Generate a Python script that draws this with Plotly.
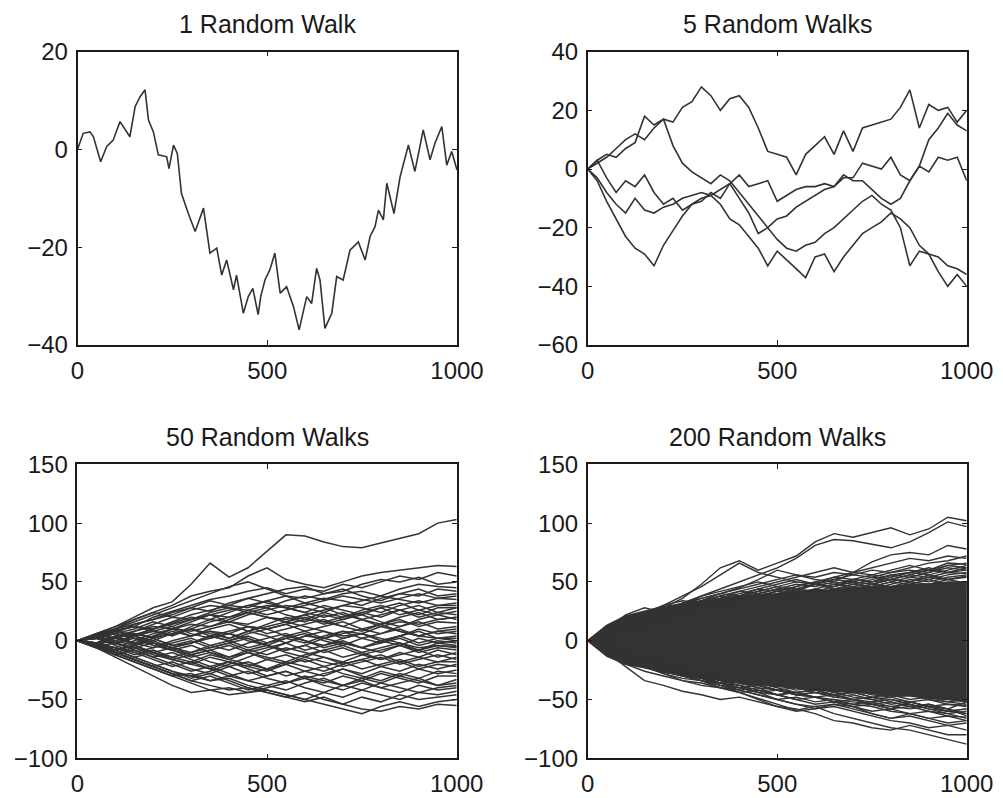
import plotly.graph_objects as go

# ---------------------------------------------------------------------------
# Data
# ---------------------------------------------------------------------------
TITLES = ["1 Random Walk", "5 Random Walks", "50 Random Walks", "200 Random Walks"]

X_TICKS = [0, 500, 1000]
Y_TICKS_1 = [-40, -20, 0, 20]
Y_TICKS_2 = [-60, -40, -20, 0, 20, 40]
Y_TICKS_34 = [-100, -50, 0, 50, 100, 150]

# single walk: step index and position
WALK1_STEPS = [0, 15, 33, 42, 61, 77, 94, 112, 138, 152, 165, 178, 187, 200, 213,
               235, 241, 253, 263, 274, 292, 310, 332, 349, 367, 380, 393, 411,
               419, 437, 450, 462, 476, 483, 494, 507, 520, 534, 551, 569, 584,
               604, 617, 630, 639, 652, 670, 683, 700, 718, 740, 758, 771, 784,
               793, 806, 815, 834, 850, 872, 889, 911, 929, 942, 960, 973, 986,
               1000]
WALK1_VALUES = [0, 3.3, 3.6, 2.6, -2.5, 0.6, 1.9, 5.7, 2.6, 8.8, 10.8, 12.2, 6.0,
                3.6, -1.1, -1.5, -3.9, 0.9, -0.8, -9.0, -13.1, -16.8, -12.0,
                -21.2, -20.2, -25.7, -22.6, -28.7, -25.7, -33.5, -30.1, -28.4,
                -33.8, -30.0, -26.7, -24.6, -21.2, -29.4, -28.1, -32.1, -36.9,
                -30.1, -31.5, -24.3, -26.7, -36.6, -33.5, -26.0, -26.7, -20.6,
                -18.9, -22.6, -17.8, -15.8, -12.4, -14.4, -6.9, -13.1, -5.6, 0.9,
                -4.5, 4.0, -2.1, 1.3, 4.7, -3.2, -0.4, -4.2]

# five walks sampled every 25 steps
STEPS_25 = list(range(0, 1001, 25))
WALKS5 = [
    [0, 3, 5, 4, 7, 9, 18, 15, 17, 16, 21, 23, 28, 25, 20, 24, 25, 21, 14, 6,
     5, 4, -2, 5, 8, 11, 5, 13, 6, 14, 15, 16, 17, 21, 27, 14, 22, 20, 21, 16, 20],
    [0, 2, 4, 7, 10, 12, 10, 14, 17, 8, 2, -1, -3, -5, -2, -4, -8, -12, -16, -20,
     -17, -16, -13, -11, -9, -7, -6, -2, -4, -4, -7, -10, -12, -10, -4, 1, 10, 14, 19, 15, 13],
    [0, 3, -3, -8, -4, -6, -2, -8, -12, -10, -14, -12, -11, -8, -10, -5, -2, -6, -5, -4,
     -11, -9, -7, -6, -6, -5, -6, -3, -3, 2, 1, 0, 4, -2, -4, 1, -1, 4, 3, 4, -4],
    [0, -3, -8, -12, -15, -10, -14, -15, -13, -12, -10, -9, -8, -9, -12, -17, -19, -23, -27, -33,
     -28, -31, -34, -37, -30, -29, -35, -30, -26, -22, -20, -18, -15, -17, -20, -26, -29, -35, -40, -36, -40],
    [0, -4, -11, -17, -23, -27, -29, -33, -26, -21, -16, -12, -10, -9, -7, -5, -10, -15, -22, -20,
     -24, -27, -28, -26, -25, -22, -20, -17, -14, -11, -9, -12, -14, -20, -33, -28, -29, -30, -33, -34, -36],
]

# fifty walks sampled every 50 steps
STEPS_50 = list(range(0, 1001, 50))
WALKS50 = [
    [0, 6, 12, 20, 28, 33, 48, 66, 54, 62, 76, 90, 89, 84, 80, 79, 83, 87, 91, 100, 103],
    [0, 5, 10, 18, 24, 30, 38, 42, 45, 55, 62, 52, 48, 45, 50, 55, 58, 60, 62, 64, 63],
    [0, 4, 9, 12, 20, 25, 30, 35, 38, 42, 45, 40, 44, 42, 48, 45, 50, 55, 52, 58, 55],
    [0, 2, 6, 14, 18, 22, 28, 25, 32, 36, 40, 44, 46, 40, 42, 48, 52, 50, 54, 48, 50],
    [0, 3, 8, 5, 10, 15, 20, 18, 24, 30, 28, 34, 38, 35, 40, 42, 38, 44, 48, 46, 45],
    [0, -2, 4, 8, 12, 10, 16, 22, 20, 26, 30, 28, 32, 36, 34, 30, 36, 40, 38, 44, 42],
    [0, 5, 2, 8, 14, 20, 18, 24, 28, 26, 22, 26, 30, 34, 38, 35, 32, 36, 40, 36, 38],
    [0, 2, -3, 4, 8, 5, 12, 18, 16, 22, 26, 30, 28, 24, 30, 34, 38, 35, 32, 36, 35],
    [0, -4, 2, 6, 3, 10, 14, 12, 18, 24, 20, 16, 22, 26, 30, 28, 24, 30, 34, 30, 32],
    [0, 6, 10, 14, 18, 24, 28, 34, 30, 36, 32, 28, 24, 30, 26, 22, 28, 32, 26, 30, 30],
    [0, 3, 8, 12, 8, 4, 10, 16, 20, 24, 28, 22, 18, 24, 20, 26, 30, 26, 22, 28, 28],
    [0, -3, -6, 0, 6, 10, 8, 12, 16, 14, 20, 18, 22, 16, 20, 24, 28, 22, 26, 22, 25],
    [0, 4, 8, 4, 10, 14, 18, 22, 26, 30, 34, 28, 24, 20, 24, 18, 22, 26, 20, 24, 22],
    [0, -2, 3, -2, -6, 0, 4, 8, 6, 12, 10, 14, 18, 16, 12, 18, 14, 20, 24, 18, 20],
    [0, 5, 2, -3, 2, 6, 10, 6, 2, 8, 12, 16, 20, 14, 18, 22, 16, 12, 18, 22, 18],
    [0, -4, -8, -4, 0, -6, -2, 4, 8, 12, 6, 10, 14, 18, 12, 8, 14, 18, 12, 16, 15],
    [0, 3, 6, 10, 16, 12, 18, 22, 16, 12, 10, 14, 8, 12, 16, 10, 6, 12, 16, 10, 12],
    [0, -3, 2, 6, 2, -4, -2, 4, 0, 6, 10, 4, 8, 2, 6, 10, 14, 8, 4, 8, 10],
    [0, 4, 0, -4, 2, 8, 4, 10, 14, 8, 4, -2, 4, 8, 2, 6, 0, 4, 10, 6, 8],
    [0, -5, -2, 4, 8, 12, 6, 2, 6, 0, -4, 2, -2, 4, 8, 2, 6, 10, 4, 8, 6],
    [0, 2, 6, 2, -2, -6, -10, -4, 0, 4, -2, 2, 6, 0, -4, 2, -2, 4, 8, 2, 4],
    [0, -2, -6, -10, -6, -2, 2, -4, -8, -2, 2, 6, 0, -6, -2, -6, 0, 4, -2, 2, 2],
    [0, 4, 8, 4, 0, 6, 10, 4, 0, -6, -2, 4, 0, -4, 2, 6, 0, -4, 2, -2, 0],
    [0, -3, 0, 4, -2, -6, -2, 2, 6, 2, -4, -8, -4, 2, -2, -6, -2, 2, -4, 0, -2],
    [0, 2, -2, -6, -10, -6, -12, -8, -4, -10, -6, -2, -8, -4, 0, -6, -10, -4, -8, -2, -4],
    [0, -4, -8, -4, -10, -14, -10, -6, -2, -8, -4, -10, -14, -8, -4, -10, -6, -2, -8, -4, -6],
    [0, 5, 2, 6, 2, -4, 0, -6, -2, 2, -4, -8, -4, -10, -6, -12, -8, -4, -10, -6, -8],
    [0, -2, -6, -12, -8, -14, -18, -12, -16, -10, -14, -18, -12, -8, -14, -10, -16, -12, -8, -14, -10],
    [0, 3, -2, 2, -4, -8, -4, -10, -14, -8, -12, -6, -10, -14, -18, -12, -16, -10, -14, -8, -12],
    [0, -5, -10, -6, -12, -16, -20, -14, -18, -22, -16, -12, -18, -14, -20, -16, -12, -18, -14, -18, -14],
    [0, 2, 6, 2, -4, -8, -12, -8, -14, -10, -16, -20, -14, -18, -22, -18, -14, -20, -16, -12, -16],
    [0, -3, -8, -14, -10, -16, -20, -24, -18, -22, -26, -20, -16, -22, -18, -24, -20, -16, -22, -18, -18],
    [0, 4, -2, -6, -2, -8, -14, -10, -16, -20, -24, -18, -22, -26, -20, -16, -22, -26, -20, -24, -20],
    [0, -4, -10, -16, -22, -18, -24, -28, -22, -18, -24, -20, -26, -30, -24, -28, -22, -18, -24, -20, -22],
    [0, -2, -8, -4, -10, -16, -12, -18, -22, -28, -24, -30, -26, -22, -28, -32, -26, -30, -24, -28, -25],
    [0, 3, -2, -8, -14, -10, -16, -22, -18, -24, -30, -26, -32, -28, -24, -30, -34, -28, -32, -26, -28],
    [0, -6, -12, -8, -14, -20, -26, -22, -28, -34, -30, -26, -32, -36, -30, -34, -28, -32, -36, -30, -30],
    [0, -3, -8, -14, -20, -26, -30, -34, -30, -26, -32, -36, -30, -34, -38, -32, -36, -30, -34, -38, -33],
    [0, 2, -4, -10, -16, -22, -18, -24, -30, -34, -38, -42, -36, -32, -38, -34, -40, -36, -32, -38, -36],
    [0, -5, -10, -16, -22, -28, -34, -30, -36, -42, -38, -34, -40, -44, -38, -42, -36, -40, -44, -40, -38],
    [0, -4, -12, -18, -24, -30, -36, -42, -46, -44, -40, -36, -32, -38, -42, -36, -40, -44, -38, -42, -40],
    [0, -6, -14, -22, -30, -38, -44, -42, -40, -44, -42, -46, -50, -44, -48, -42, -46, -50, -44, -46, -43],
    [0, -2, -8, -14, -20, -26, -32, -28, -34, -40, -44, -48, -44, -50, -54, -48, -52, -46, -50, -48, -46],
    [0, -6, -12, -18, -24, -30, -28, -34, -32, -38, -42, -46, -50, -54, -58, -62, -56, -52, -56, -52, -50],
    [0, -4, -10, -16, -22, -28, -34, -38, -42, -40, -44, -48, -52, -48, -54, -58, -60, -56, -58, -54, -55],
    [0, 2, 8, 12, 10, 16, 22, 26, 30, 28, 34, 38, 36, 40, 44, 38, 34, 40, 44, 38, 40],
    [0, 4, 10, 16, 22, 28, 34, 40, 46, 50, 44, 38, 32, 28, 22, 18, 12, 8, 4, 2, 0],
    [0, -4, -10, -16, -22, -28, -30, -26, -20, -14, -8, -2, 4, 2, 8, 6, 12, 16, 14, 18, 20],
    [0, 6, 12, 18, 24, 20, 26, 30, 28, 24, 20, 16, 12, 8, 4, 6, 2, -2, -6, -4, -5],
    [0, -2, 4, -2, 4, 10, 4, 8, 2, 8, 14, 20, 16, 22, 18, 24, 20, 26, 30, 24, 28],
]

# 200 walks: the tightly packed core (upper / lower edge every 50 steps)
CORE_UPPER = [0, 13, 21, 25, 29, 31, 34, 35, 38, 39, 40, 42, 43, 43, 45, 46, 46, 48, 48, 50, 50]
CORE_LOWER = [0, -13, -20, -23, -27, -29, -32, -33, -36, -37, -39, -40, -42, -43, -44, -45, -47, -47, -49, -50, -52]

# 200 walks: the walks that stray outside the core or run along its edge
WALKS200_OUTER = [
    [0, 6, 12, 20, 28, 36, 48, 62, 68, 60, 66, 72, 84, 91, 88, 92, 96, 90, 95, 105, 102],
    [0, 4, 10, 16, 24, 30, 38, 44, 50, 56, 62, 70, 81, 86, 85, 82, 79, 84, 92, 101, 97],
    [0, 10, 22, 28, 24, 28, 34, 40, 45, 52, 60, 56, 52, 50, 58, 67, 73, 75, 73, 81, 78],
    [0, 3, 8, 14, 20, 26, 30, 36, 42, 46, 50, 54, 58, 62, 58, 62, 66, 70, 68, 72, 70],
    [0, -2, 6, 12, 18, 22, 28, 34, 38, 44, 48, 52, 48, 54, 58, 56, 60, 64, 60, 66, 65],
    [0, 4, 10, 16, 14, 20, 26, 32, 36, 34, 40, 44, 48, 46, 52, 50, 56, 58, 62, 58, 60],
    [0, 2, 8, 14, 20, 24, 30, 28, 34, 38, 42, 40, 44, 48, 46, 50, 52, 56, 54, 58, 57],
    [0, 6, 14, 20, 26, 32, 38, 42, 46, 50, 46, 42, 40, 44, 48, 46, 50, 54, 52, 48, 50],
    [0, 4, 12, 18, 24, 28, 34, 30, 36, 42, 38, 44, 42, 46, 50, 48, 52, 50, 56, 52, 54],
    [0, 8, 14, 22, 30, 38, 46, 56, 66, 58, 54, 50, 48, 44, 46, 42, 40, 44, 48, 46, 45],
    [0, 5, 10, 16, 22, 26, 32, 38, 36, 40, 44, 42, 48, 52, 56, 54, 58, 60, 58, 64, 62],
    [0, 6, 12, 18, 24, 28, 32, 30, 34, 38, 36, 40, 44, 42, 46, 44, 48, 52, 50, 54, 56],
    [0, 4, 10, 16, 22, 26, 30, 34, 32, 36, 40, 38, 42, 40, 44, 48, 46, 50, 48, 52, 49],
    [0, 8, 14, 20, 24, 26, 32, 36, 38, 34, 38, 42, 40, 44, 42, 46, 50, 48, 52, 56, 58],
    [0, 2, 8, 12, 18, 22, 26, 24, 28, 32, 36, 34, 38, 42, 40, 44, 42, 46, 44, 48, 46],
    [0, 8, 16, 22, 28, 32, 36, 40, 38, 42, 46, 44, 48, 52, 50, 54, 52, 56, 60, 58, 62],
    [0, 6, 14, 20, 26, 30, 34, 38, 42, 40, 44, 48, 46, 50, 48, 52, 56, 54, 58, 62, 60],
    [0, 10, 18, 24, 30, 34, 32, 36, 40, 44, 42, 46, 50, 54, 52, 56, 54, 58, 56, 60, 64],
    [0, 4, 12, 18, 22, 26, 30, 34, 38, 42, 46, 50, 48, 46, 50, 48, 52, 50, 54, 52, 55],
    [0, 8, 16, 20, 24, 30, 36, 40, 44, 48, 52, 56, 54, 58, 56, 60, 58, 62, 66, 68, 72],
    [0, 6, 12, 16, 22, 28, 34, 36, 34, 38, 42, 46, 50, 48, 52, 50, 54, 58, 60, 64, 66],
    [0, -4, -10, -14, -22, -26, -30, -36, -38, -44, -50, -54, -56, -62, -66, -70, -74, -76, -80, -84, -88],
    [0, -6, -12, -18, -24, -28, -34, -40, -44, -50, -56, -58, -62, -68, -70, -74, -76, -72, -76, -80, -80],
    [0, -10, -22, -34, -38, -43, -46, -50, -48, -52, -56, -60, -58, -54, -56, -62, -66, -62, -66, -70, -68],
    [0, -4, -10, -14, -20, -26, -32, -38, -44, -49, -54, -59, -56, -54, -58, -62, -66, -64, -68, -72, -70],
    [0, -6, -12, -16, -22, -28, -30, -36, -42, -40, -46, -50, -54, -52, -56, -60, -58, -62, -66, -64, -65],
    [0, -2, -8, -14, -20, -24, -30, -34, -38, -42, -46, -44, -48, -52, -50, -54, -58, -56, -60, -62, -60],
    [0, -4, -10, -16, -22, -26, -30, -34, -36, -40, -42, -46, -48, -50, -52, -54, -56, -58, -56, -60, -58],
    [0, -6, -12, -18, -24, -28, -32, -36, -40, -44, -46, -50, -48, -52, -56, -54, -58, -52, -56, -54, -55],
    [0, -4, -10, -16, -22, -26, -30, -32, -36, -38, -42, -40, -44, -46, -44, -48, -50, -52, -50, -54, -56],
    [0, -2, -8, -14, -18, -22, -26, -30, -34, -36, -38, -42, -40, -44, -42, -46, -48, -46, -50, -52, -50],
    [0, -6, -14, -20, -26, -30, -34, -38, -40, -38, -42, -46, -44, -48, -46, -50, -54, -52, -56, -60, -62],
    [0, -4, -10, -14, -20, -24, -28, -26, -30, -34, -38, -36, -40, -44, -48, -50, -48, -52, -56, -58, -64],
    [0, -8, -16, -22, -28, -32, -34, -38, -42, -46, -50, -54, -58, -56, -60, -64, -68, -70, -74, -72, -76],
    [0, -8, -14, -20, -26, -30, -34, -36, -40, -38, -42, -46, -44, -48, -50, -48, -52, -56, -54, -58, -62],
    [0, -10, -16, -22, -26, -30, -32, -36, -34, -38, -42, -44, -42, -46, -50, -52, -50, -54, -58, -60, -58],
    [0, -6, -14, -20, -24, -28, -32, -36, -40, -44, -42, -46, -48, -46, -50, -54, -52, -56, -54, -58, -52],
    [0, -8, -16, -22, -28, -34, -38, -40, -44, -42, -46, -44, -48, -52, -54, -52, -56, -54, -58, -62, -66],
    [0, -12, -20, -26, -30, -34, -36, -40, -42, -46, -50, -48, -52, -50, -54, -56, -60, -62, -60, -64, -68],
    [0, -6, -12, -18, -22, -26, -30, -34, -38, -36, -40, -44, -42, -46, -44, -48, -46, -50, -48, -52, -54],
]

for w in WALKS5:
    assert len(w) == len(STEPS_25)
for w in WALKS50 + WALKS200_OUTER + [CORE_UPPER, CORE_LOWER]:
    assert len(w) == len(STEPS_50)

# ---------------------------------------------------------------------------
# Figure
# ---------------------------------------------------------------------------
W, H = 1003, 798
LINE = "#333333"
AXIS = "#1a1a1a"
FONT = "Liberation Sans, Arial, Helvetica, sans-serif"

fig = go.Figure()

# panel boxes in pixels: (left, right, top, bottom)
boxes = [
    (77.5, 457.0, 51.7, 345.0),
    (587.7, 966.7, 51.7, 345.0),
    (77.3, 456.7, 464.3, 758.3),
    (587.7, 966.7, 464.3, 758.3),
]
y_ranges = [[-40, 20], [-60, 40], [-100, 150], [-100, 150]]
y_ticks = [Y_TICKS_1, Y_TICKS_2, Y_TICKS_34, Y_TICKS_34]


def line(x, y, i, width):
    sfx = "" if i == 0 else str(i + 1)
    return go.Scatter(x=x, y=y, mode="lines", xaxis="x" + sfx, yaxis="y" + sfx,
                      line=dict(color=LINE, width=width), hoverinfo="skip",
                      showlegend=False)


fig.add_trace(line(WALK1_STEPS, WALK1_VALUES, 0, 1.6))
for w in WALKS5:
    fig.add_trace(line(STEPS_25, w, 1, 1.6))
for w in WALKS50:
    fig.add_trace(line(STEPS_50, w, 2, 1.5))

# core band of the 200 walks
fig.add_trace(go.Scatter(
    x=STEPS_50 + STEPS_50[::-1], y=CORE_UPPER + CORE_LOWER[::-1],
    mode="lines", fill="toself", fillcolor=LINE, xaxis="x4", yaxis="y4",
    line=dict(color=LINE, width=1.5), hoverinfo="skip", showlegend=False))
for w in WALKS200_OUTER:
    fig.add_trace(line(STEPS_50, w, 3, 1.4))

layout = dict(
    template="none",
    width=W, height=H, autosize=False,
    margin=dict(l=0, r=0, t=0, b=0, pad=0, autoexpand=False),
    paper_bgcolor="white", plot_bgcolor="white",
    font=dict(family=FONT, size=24, color="#1a1a1a"),
    showlegend=False,
)

annotations = []
for i, (l, r, t, b) in enumerate(boxes):
    sfx = "" if i == 0 else str(i + 1)
    common = dict(showline=True, linecolor=AXIS, linewidth=1.5, mirror="ticks",
                  ticks="inside", ticklen=5, tickwidth=1, tickcolor=AXIS,
                  showgrid=False, zeroline=False, automargin=False,
                  tickfont=dict(family=FONT, size=24, color="#1a1a1a"))
    layout["xaxis" + sfx] = dict(
        domain=[l / W, r / W], range=[0, 1000], anchor="y" + sfx,
        tickmode="array", tickvals=X_TICKS, ticklabelstandoff=3, **common)
    layout["yaxis" + sfx] = dict(
        domain=[1 - b / H, 1 - t / H], range=y_ranges[i], anchor="x" + sfx,
        tickmode="array", tickvals=y_ticks[i], ticklabelstandoff=3, **common)
    annotations.append(dict(
        text=TITLES[i], xref="paper", yref="paper",
        x=(l + r) / 2 / W, y=1 - (t - 27.5) / H,
        xanchor="center", yanchor="middle", showarrow=False,
        font=dict(family=FONT, size=25, color="#1a1a1a")))

layout["annotations"] = annotations
fig.update_layout(**layout)

fig.write_html("out.html", config={"displayModeBar": False})
